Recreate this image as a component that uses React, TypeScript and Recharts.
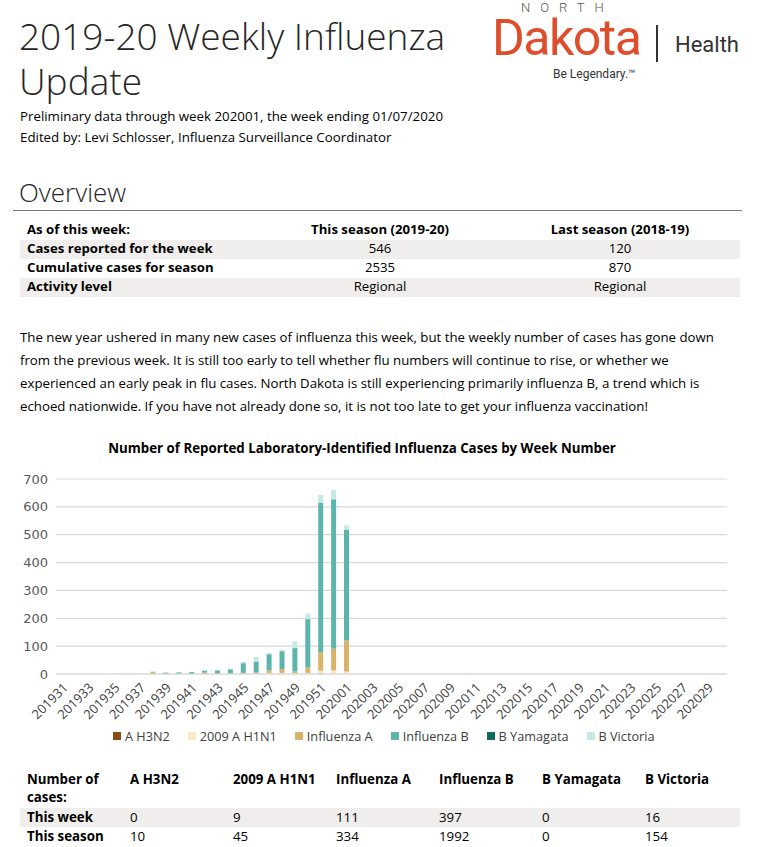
import { Bar, BarChart, CartesianGrid, Legend, XAxis, YAxis } from "recharts";

const weeks = [
  "201931", "201932", "201933", "201934", "201935", "201936", "201937", "201938",
  "201939", "201940", "201941", "201942", "201943", "201944", "201945", "201946",
  "201947", "201948", "201949", "201950", "201951", "201952", "202001", "202002",
  "202003", "202004", "202005", "202006", "202007", "202008", "202009", "202010",
  "202011", "202012", "202013", "202014", "202015", "202016", "202017", "202018",
  "202019", "202020", "202021", "202022", "202023", "202024", "202025", "202026",
  "202027", "202028", "202029", "202030",
];

// weekly counts, 201931 .. 202001 (rest of season not reported yet)
const aH3N2 = [0, 0, 0, 0, 0, 0, 0, 1, 0, 0, 0, 0, 1, 0, 1, 0, 1, 1, 1, 1, 2, 1, 0];
const h1n1 = [0, 0, 0, 0, 0, 0, 0, 0, 0, 0, 0, 0, 0, 0, 1, 2, 3, 3, 2, 3, 10, 12, 9];
const influenzaA = [0, 0, 0, 0, 0, 0, 0, 6, 1, 1, 1, 5, 2, 2, 2, 3, 9, 14, 6, 20, 66, 78, 111];
const influenzaB = [0, 0, 0, 0, 0, 0, 1, 1, 4, 5, 6, 7, 10, 15, 35, 40, 58, 64, 84, 173, 537, 536, 397];
const bYamagata = [0, 0, 0, 0, 0, 0, 0, 0, 0, 0, 0, 0, 0, 0, 0, 0, 0, 0, 0, 0, 0, 0, 0];
const bVictoria = [0, 0, 1, 0, 1, 2, 2, 1, 1, 1, 1, 2, 2, 2, 5, 16, 5, 6, 24, 20, 28, 34, 16];

const yTicks = [0, 100, 200, 300, 400, 500, 600, 700];

const series = [
  { key: "h3n2", name: "A H3N2", color: "#8a4b12", values: aH3N2 },
  { key: "h1n1", name: "2009 A H1N1", color: "#f7e8c6", values: h1n1 },
  { key: "fluA", name: "Influenza A", color: "#d8b368", values: influenzaA },
  { key: "fluB", name: "Influenza B", color: "#5bb5ab", values: influenzaB },
  { key: "yam", name: "B Yamagata", color: "#0f6b5d", values: bYamagata },
  { key: "vic", name: "B Victoria", color: "#c7e9e3", values: bVictoria },
];

const overviewHead = ["As of this week:", "This season (2019-20)", "Last season (2018-19)"];
const overviewRows = [
  ["Cases reported for the week", "546", "120"],
  ["Cumulative cases for season", "2535", "870"],
  ["Activity level", "Regional", "Regional"],
];

const typeHead = ["A H3N2", "2009 A H1N1", "Influenza A", "Influenza B", "B Yamagata", "B Victoria"];
const thisWeek = [0, 9, 111, 397, 0, 16];
const thisSeason = [10, 45, 334, 1992, 0, 154];

const paragraph = [
  "The new year ushered in many new cases of influenza this week, but the weekly number of cases has gone down",
  "from the previous week. It is still too early to tell whether flu numbers will continue to rise, or whether we",
  "experienced an early peak in flu cases. North Dakota is still experiencing primarily influenza B, a trend which is",
  "echoed nationwide. If you have not already done so, it is not too late to get your influenza vaccination!",
];

const rows = weeks.map((week, i) => {
  const r: Record<string, string | number> = { week };
  series.forEach((s) => (r[s.key] = s.values[i] ?? 0));
  return r;
});

const SANS = '"Open Sans", "Noto Sans", sans-serif';
const LOGO = 'Roboto, "Noto Sans", sans-serif';

// place text by its baseline
function Txt(props: {
  x: number;
  b: number;
  size: number;
  font?: string;
  weight?: number;
  color?: string;
  w?: number;
  align?: "left" | "center";
  ls?: number;
  children: React.ReactNode;
}) {
  const font = props.font ?? SANS;
  const k = font === LOGO ? 0.8415 : 0.888;
  return (
    <div
      style={{
        position: "absolute",
        left: props.x,
        top: props.b - k * props.size,
        width: props.w,
        textAlign: props.align ?? "left",
        fontFamily: font,
        fontSize: props.size,
        lineHeight: `${props.size}px`,
        fontWeight: props.weight ?? 400,
        color: props.color ?? "#000",
        letterSpacing: props.ls,
        whiteSpace: "nowrap",
      }}
    >
      {props.children}
    </div>
  );
}

const WeekTick = (p: any) => {
  const { x, y, payload } = p;
  return (
    <text
      x={x}
      y={y}
      transform={`rotate(-45 ${x} ${y})`}
      textAnchor="end"
      dx={0}
      dy={9}
      fontSize={13}
      fontFamily={SANS}
      fill="#404040"
    >
      {payload.value}
    </text>
  );
};

const LegendBox = () => (
  <div
    style={{
      display: "flex",
      paddingLeft: 103,
      fontFamily: SANS,
      fontSize: 12.7,
      color: "#404040",
      lineHeight: "20px",
    }}
  >
    {series.map((s) => (
      <div key={s.key} style={{ display: "flex", alignItems: "center", marginRight: 18 }}>
        <span style={{ width: 8, height: 8, background: s.color, marginRight: 4 }} />
        {s.name}
      </div>
    ))}
  </div>
);

export default function App() {
  return (
    <div
      style={{
        position: "absolute",
        left: 0,
        top: 0,
        width: 766,
        height: 847,
        background: "#fff",
        overflow: "hidden",
      }}
    >
      <div
        style={{
          position: "absolute",
          left: 19,
          top: 13,
          fontFamily: SANS,
          fontSize: 37,
          fontWeight: 300,
          lineHeight: "45px",
          color: "#262626",
        }}
      >
        2019-20 Weekly Influenza
        <br />
        Update
      </div>

      <Txt x={521} b={12} size={13} font={LOGO} weight={300} color="#555" ls={10}>NORTH</Txt>
      <Txt x={492} b={55} size={50} font={LOGO} weight={400} color="#df4e2c" ls={-1.5}>Dakota</Txt>
      <div style={{ position: "absolute", left: 656, top: 25, width: 1.5, height: 37, background: "#333" }} />
      <Txt x={675} b={53} size={22} font={LOGO} color="#333">Health</Txt>
      <Txt x={553} b={78} size={12} font={LOGO} color="#333">Be Legendary.™</Txt>

      <Txt x={20} b={122} size={13.3}>Preliminary data through week 202001, the week ending 01/07/2020</Txt>
      <Txt x={20} b={143} size={13.3}>Edited by: Levi Schlosser, Influenza Surveillance Coordinator</Txt>

      <Txt x={19} b={202} size={26} weight={300} color="#262626">Overview</Txt>
      <div style={{ position: "absolute", left: 13, top: 210, width: 729, height: 1, background: "#777" }} />

      {[overviewHead, ...overviewRows].map((r, i) => (
        <div key={i}>
          {i % 2 === 1 && (
            <div style={{ position: "absolute", left: 20, top: 221 + i * 19, width: 720, height: 19, background: "#efeeec" }} />
          )}
          <Txt x={27} b={235 + i * 19} size={13.2} weight={700}>{r[0]}</Txt>
          <Txt x={260} w={240} align="center" b={235 + i * 19} size={13.2} weight={i === 0 ? 700 : 400}>{r[1]}</Txt>
          <Txt x={500} w={240} align="center" b={235 + i * 19} size={13.2} weight={i === 0 ? 700 : 400}>{r[2]}</Txt>
        </div>
      ))}

      {paragraph.map((line, i) => (
        <Txt key={i} x={20} b={343 + i * 23} size={13.25}>{line}</Txt>
      ))}

      <Txt x={8} w={708} align="center" b={454} size={13.3} weight={700}>
        Number of Reported Laboratory-Identified Influenza Cases by Week Number
      </Txt>

      <div style={{ position: "absolute", left: 10, top: 460 }}>
        <BarChart
          width={740}
          height={290}
          data={rows}
          margin={{ top: 19, right: 23, left: 0, bottom: 4 }}
          barCategoryGap="32%"
        >
          <CartesianGrid vertical={false} stroke="#d9d9d9" strokeWidth={1.2} />
          <XAxis
            dataKey="week"
            interval={1}
            height={52}
            tickLine={false}
            axisLine={{ stroke: "#d9d9d9", strokeWidth: 1.2 }}
            tick={<WeekTick />}
          />
          <YAxis
            width={46}
            domain={[0, 700]}
            ticks={yTicks}
            axisLine={false}
            tickLine={false}
            tick={{ fill: "#595959", fontSize: 13, fontFamily: '"DejaVu Sans", sans-serif' }}
          />
          <Legend verticalAlign="bottom" height={20} content={<LegendBox />} />
          {series.map((s) => (
            <Bar
              key={s.key}
              dataKey={s.key}
              name={s.name}
              stackId="flu"
              fill={s.color}
              isAnimationActive={false}
            />
          ))}
        </BarChart>
      </div>

      <div style={{ position: "absolute", left: 20, top: 808, width: 720, height: 19, background: "#efeeec" }} />
      <Txt x={27} b={785} size={13.3} weight={700}>Number of</Txt>
      <Txt x={27} b={803} size={13.3} weight={700}>cases:</Txt>
      {typeHead.map((h, i) => (
        <Txt key={h} x={130 + i * 103} b={785} size={13.3} weight={700}>{h}</Txt>
      ))}
      <Txt x={27} b={823} size={13.3} weight={700}>This week</Txt>
      <Txt x={27} b={842} size={13.3} weight={700}>This season</Txt>
      {thisWeek.map((v, i) => (
        <Txt key={"w" + i} x={130 + i * 103} b={823} size={13.3}>{v}</Txt>
      ))}
      {thisSeason.map((v, i) => (
        <Txt key={"s" + i} x={130 + i * 103} b={842} size={13.3}>{v}</Txt>
      ))}
    </div>
  );
}
